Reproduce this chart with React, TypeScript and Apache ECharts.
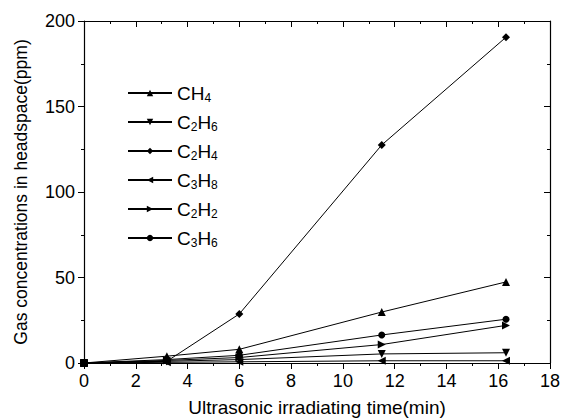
import React, { useEffect, useRef } from "react";
import * as echarts from "echarts";

const times = [0, 3.2, 6, 11.5, 16.3];
const seriesNames = ["CH4", "C2H6", "C2H4", "C3H8", "C2H2", "C3H6"];
const ch4 = [0, 4, 8, 29.8, 47.4];
const c2h6 = [0, 1, 2, 5.3, 6];
const c2h4 = [0, 1, 28.7, 127.5, 190.5];
const c3h8 = [0, 0.4, 0.7, 1.3, 1.3];
const c2h2 = [0, 1.5, 3.2, 10.8, 22];
const c3h6 = [0, 2, 4.5, 16.4, 25.6];
const xTicks = { min: 0, max: 18, interval: 2 };
const yTicks = { min: 0, max: 200, interval: 50 };

const values = [ch4, c2h6, c2h4, c3h8, c2h2, c3h6];
const symbols = ["triangle", "triangle", "diamond", "triangle", "triangle", "circle"];
const rotations = [0, 180, 0, 90, -90, 0];
const sizes = [8, 8, 8, 8, 8, 7];

const FONT = "Liberation Sans, Arial, sans-serif";

function fmtName(name: string) {
  return name
    .split("")
    .map((ch) => (/\d/.test(ch) ? `{s|${ch}}` : `{a|${ch}}`))
    .join("");
}

export default function App() {
  const ref = useRef<HTMLDivElement>(null);
  useEffect(() => {
    if (!ref.current) return;
    const chart = echarts.init(ref.current, undefined, { renderer: "svg" });
    const axisLine = { show: true, onZero: false, lineStyle: { color: "#000", width: 1.2 } };
    chart.setOption({
      animation: false,
      backgroundColor: "#fff",
      grid: { left: 84, right: 11, top: 21, bottom: 55, containLabel: false, outerBoundsMode: "none" },
      legend: {
        orient: "vertical",
        left: 122,
        top: 77,
        itemGap: 7,
        itemWidth: 44,
        itemHeight: 8,
        data: seriesNames,
        formatter: (n: string) => fmtName(n),
        textStyle: {
          color: "#000",
          fontFamily: FONT,
          rich: {
            a: { fontSize: 19, fontFamily: FONT, color: "#000", lineHeight: 22 },
            s: { fontSize: 12, fontFamily: FONT, color: "#000", padding: [10, 0, 0, 0], lineHeight: 22 },
          },
        },
      },
      xAxis: [
        {
          type: "value",
          position: "bottom",
          ...xTicks,
          name: "Ultrasonic irradiating time(min)",
          nameLocation: "middle",
          nameGap: 35,
          nameTextStyle: { fontSize: 19, fontFamily: FONT, color: "#000" },
          axisLine,
          axisTick: { show: true, inside: false, length: 6, lineStyle: { color: "#000" } },
          minorTick: { show: true, splitNumber: 2, length: 3, lineStyle: { color: "#000" } },
          axisLabel: { fontSize: 18, fontFamily: FONT, color: "#000", margin: 9 },
          splitLine: { show: false },
        },
        {
          type: "value",
          position: "top",
          ...xTicks,
          axisLine,
          axisTick: { show: true, inside: true, length: 6, lineStyle: { color: "#000" } },
          minorTick: { show: true, splitNumber: 2, length: 3, lineStyle: { color: "#000" } },
          axisLabel: { show: false },
          splitLine: { show: false },
        },
      ],
      yAxis: [
        {
          type: "value",
          position: "left",
          ...yTicks,
          name: "Gas concentrations in headspace(ppm)",
          nameLocation: "middle",
          nameGap: 54,
          nameTextStyle: { fontSize: 17.5, fontFamily: FONT, color: "#000" },
          axisLine,
          axisTick: { show: true, inside: false, length: 6, lineStyle: { color: "#000" } },
          minorTick: { show: true, splitNumber: 2, length: 3, lineStyle: { color: "#000" } },
          axisLabel: { fontSize: 18, fontFamily: FONT, color: "#000", margin: 9 },
          splitLine: { show: false },
        },
        {
          type: "value",
          position: "right",
          ...yTicks,
          axisLine,
          axisTick: { show: true, inside: true, length: 6, lineStyle: { color: "#000" } },
          minorTick: { show: true, splitNumber: 2, length: 3, lineStyle: { color: "#000" } },
          axisLabel: { show: false },
          splitLine: { show: false },
        },
      ],
      series: seriesNames.map((name, i) => ({
        name,
        type: "line",
        xAxisIndex: 0,
        yAxisIndex: 0,
        data: times.map((t, j) => [t, values[i][j]]),
        symbol: symbols[i],
        symbolSize: sizes[i],
        symbolRotate: rotations[i],
        showAllSymbol: true,
        lineStyle: { color: "#000", width: 1 },
        itemStyle: { color: "#000" },
        z: 3,
      })),
    });
    return () => chart.dispose();
  }, []);
  return <div ref={ref} style={{ width: 561, height: 418, position: "absolute", left: 0, top: 0 }} />;
}
